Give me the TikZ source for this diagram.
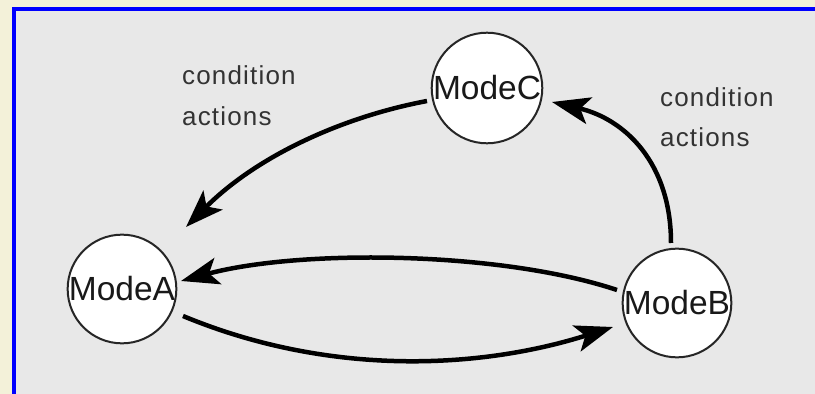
\documentclass[tikz,border=0pt]{standalone}
\usepackage{fontspec}
\setmainfont{Liberation Sans}
\newfontfamily\lblfont[LetterSpace=4.5]{Liberation Sans}
\usetikzlibrary{arrows.meta,calc}
\definecolor{cream}{RGB}{243,241,217}
\definecolor{panel}{RGB}{232,232,232}
\definecolor{edgeblue}{RGB}{0,0,255}
\tikzset{
  mode/.style={circle, draw=black!85, line width=2pt, fill=white,
    minimum size=108pt, inner sep=0pt, text=black!90,
    font=\fontsize{33.5}{36}\selectfont},
  conn/.style={line width=4.5pt, draw=black,
    -{Stealth[length=38pt,width=27pt,inset=9pt]}},
  lbl/.style={inner sep=0pt, anchor=base west, text=black!80,
    font=\lblfont\fontsize{26}{30}\selectfont}
}
\begin{document}
\begin{tikzpicture}[x=1pt,y=1pt]
\useasboundingbox (0,0) rectangle (815,394);
\fill[cream] (0,0) rectangle (815,394);
\fill[panel] (16,0) rectangle (815,383);
\fill[edgeblue] (12,0) rectangle (16,387);
\fill[edgeblue] (12,383) rectangle (815,387);

\node[mode] (A) at (122,105) {ModeA};
\node[mode] (B) at (677,91) {ModeB};
\node[mode] (C) at (487,306) {ModeC};

\draw[conn] ($(C)+(-60,-13)$) .. controls (342,277) and (257,238) .. ($(A)+(64,62)$);
\draw[conn] ($(B)+(-6,60)$) .. controls (671,231) and (625,275) .. ($(C)+(65,-14)$);
\draw[conn] ($(B)+(-60,13)$) .. controls (500,143) and (300,145) .. ($(A)+(59,8)$);
\draw[conn] ($(A)+(61,-27)$) .. controls (330,17) and (480,25) .. ($(B)+(-64,-24)$);

\node[lbl] (lc1) at (182,309) {condition};
\node[lbl] (la1) at (182,268) {actions};
\node[lbl] (lc2) at (660,287) {condition};
\node[lbl] (la2) at (660,247) {actions};
\end{tikzpicture}
\end{document}
